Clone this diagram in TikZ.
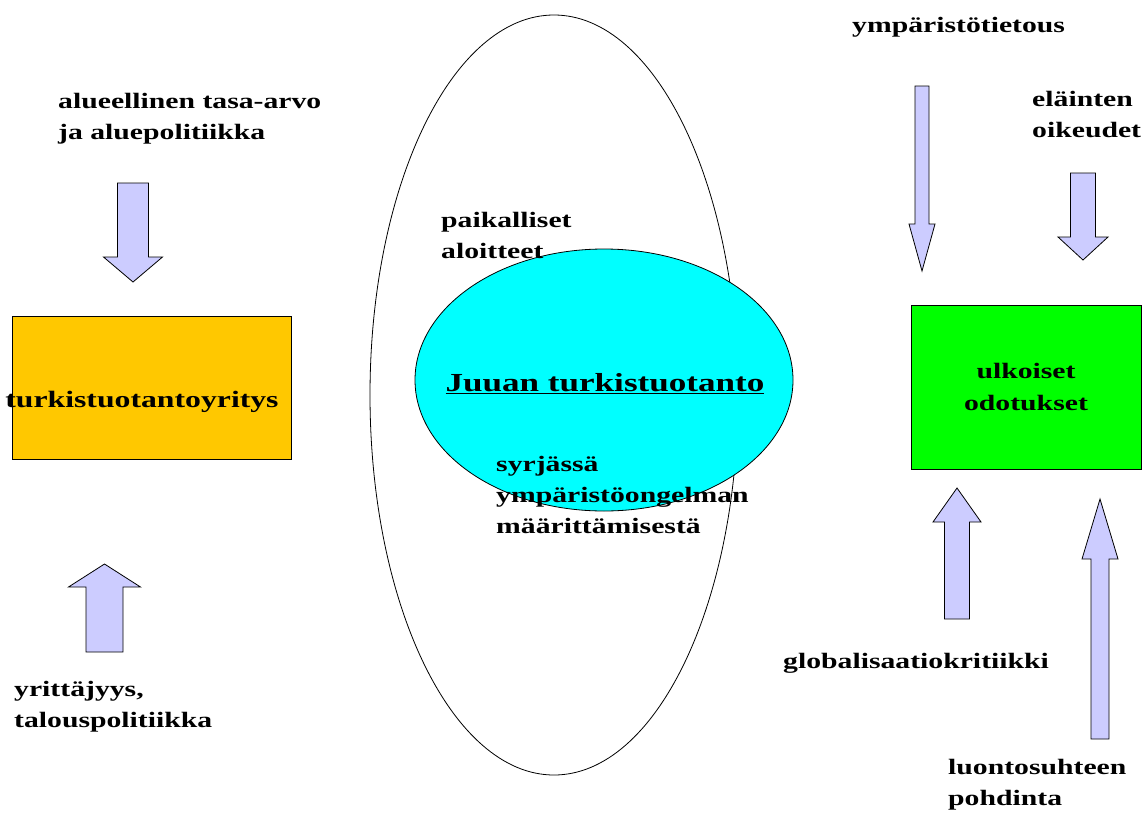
\documentclass[tikz,border=0pt]{standalone}
\usepackage{fontspec}
\setmainfont{Liberation Serif}[FakeStretch=1.35]
\usepackage{tikz}
\usetikzlibrary{shapes.geometric, positioning}
\definecolor{firmorange}{RGB}{255,200,0}
\definecolor{expgreen}{RGB}{0,255,0}
\definecolor{corecyan}{RGB}{0,255,255}
\definecolor{arrowlilac}{RGB}{204,204,255}
\tikzstyle{txt} = [align=left, anchor=west, inner sep=0pt, font=\bfseries\fontsize{22}{31}\selectfont]
\tikzstyle{box} = [draw=black, line width=0.8pt, align=center, font=\bfseries\fontsize{22}{32}\selectfont]
\tikzstyle{fat} = [draw=black, line width=0.8pt, fill=arrowlilac, line join=miter]
% x, tail y, tip y, shaft width, head width, head base y
\newcommand{\fatarrow}[6]{%
  \draw[fat] ({#1-#4/2},#2) -- ({#1-#4/2},#6) -- ({#1-#5/2},#6) -- (#1,#3)
    -- ({#1+#5/2},#6) -- ({#1+#4/2},#6) -- ({#1+#4/2},#2) -- cycle;}

\begin{document}
\begin{tikzpicture}[x=1pt, y=-1pt]
    \useasboundingbox (0,0) rectangle (1147,816);

    % Middle: the two ellipses
    \node (outer) [ellipse, draw=black, line width=0.8pt, minimum width=368pt, minimum height=760pt] at (554,395) {};
    \node (core) [ellipse, draw=black, line width=0.8pt, fill=corecyan, inner sep=0pt,
        minimum width=378pt, minimum height=262pt] at (604,380) {};
    \node (coretxt) [inner sep=0pt, font=\bfseries\fontsize{26}{30}\selectfont] at (605,384) {\underline{Juuan turkistuotanto}};
    \node (local) [txt] at (441,235) {paikalliset\\aloitteet};
    \node (aside) [txt] at (496,495) {syrjässä\\ympäristöongelman\\määrittämisestä};

    % Left: the firm
    \node (firm) [box, fill=firmorange, minimum width=279pt, minimum height=143pt] at (151.5,387.5) {};
    \node (firmtxt) [inner sep=0pt, font=\bfseries\fontsize{23.5}{30}\selectfont] at (142,402) {turkistuotantoyritys};
    \node (region) [txt] at (58,119) {alueellinen tasa-arvo\\ja aluepolitiikka};
    \node (enterprise) [txt] at (14,707) {yrittäjyys,\\talouspolitiikka};

    % Right: expectations
    \node (expect) [box, fill=expgreen, minimum width=230pt, minimum height=164pt] at (1026,387) {ulkoiset\\odotukset};
    \node (envknow) [txt] at (852,27) {ympäristötietous};
    \node (animals) [txt] at (1032,115) {eläinten\\oikeudet};
    \node (global) [txt] at (783,663) {globalisaatiokritiikki};
    \node (nature) [txt] at (948,785) {luontosuhteen\\pohdinta};

    % Block arrows
    \fatarrow{133}{183}{282}{31}{59}{257}
    \fatarrow{104.5}{652}{564}{37}{72}{587}
    \fatarrow{922}{86}{271}{14}{26}{224}
    \fatarrow{1083}{173}{260}{25}{50}{237}
    \fatarrow{957}{619}{488}{25}{48}{522}
    \fatarrow{1100}{739}{499}{18}{36}{559}
\end{tikzpicture}
\end{document}
